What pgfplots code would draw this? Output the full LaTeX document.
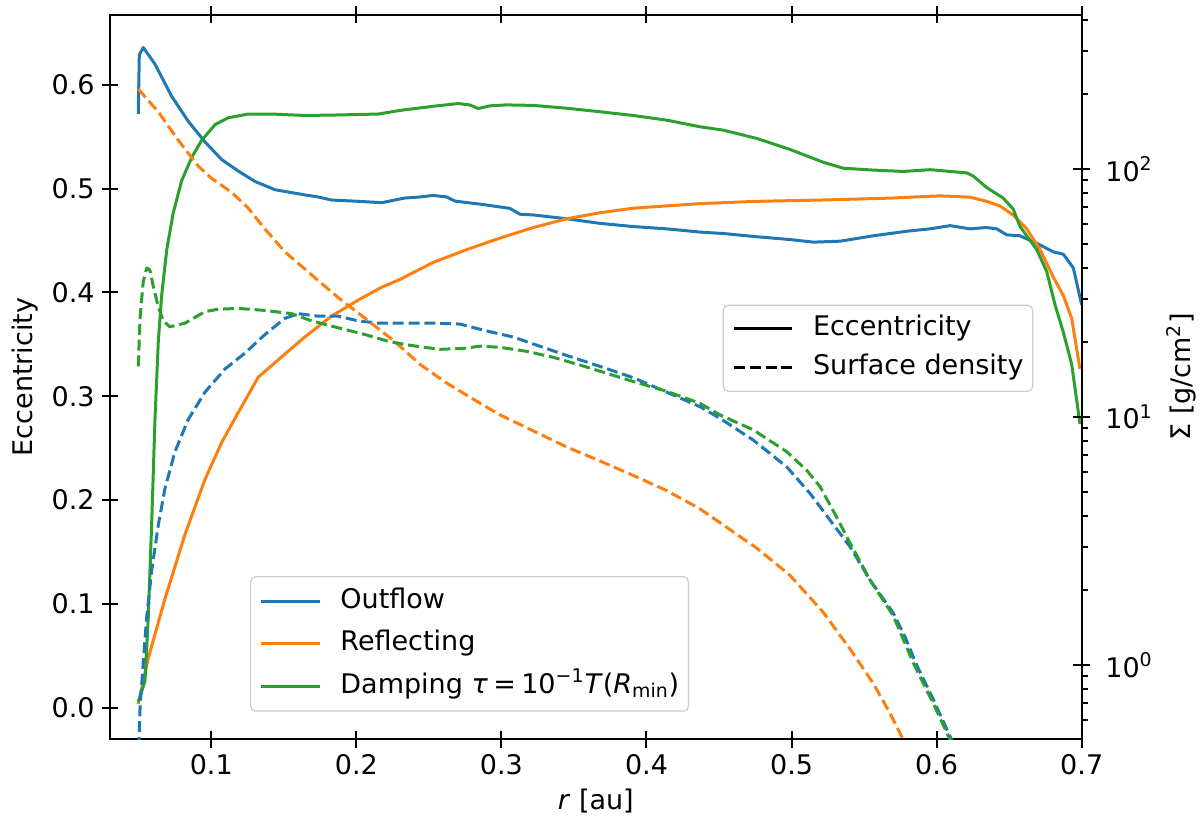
\documentclass[border=0pt]{standalone}
\usepackage{fontspec}
\setmainfont{DejaVu Sans}
\usepackage{pgfplots}
\pgfplotsset{compat=1.18}
\definecolor{c0}{HTML}{1F77B4}
\definecolor{c1}{HTML}{FF7F0E}
\definecolor{c2}{HTML}{2CA02C}
\newcommand\ff{\fontsize{13.5pt}{16pt}\selectfont}
\pgfplotsset{
  base/.style={
    scale only axis, width=485.85pt, height=362.3pt,
    at={(55pt,44.85pt)}, anchor=south west,
    xmin=0.0302, xmax=0.7,
    axis line style={line width=1pt},
    tick style={line width=1pt, black},
    tick align=center,
    major tick length=8.3pt,
    tick label style={font=\ff},
    label style={font=\ff},
    /pgf/number format/assume math mode=true,
    legend cell align=left,
    legend image code/.code={\draw[##1] (0pt,0pt) -- (29.2pt,0pt);},
    legend style={font=\ff, draw=black!20, line width=0.6pt, rounded corners=2.5pt,
      fill=white, fill opacity=0.8, text opacity=1, inner xsep=4.6pt,
      column sep=9.6pt, nodes={inner sep=0pt, text height=9.8pt, text depth=2.8pt}},
  },
  sl/.style={line width=1.5pt, line join=round},
  dl/.style={line width=1.5pt, line join=round, dash pattern=on 5.5pt off 2.4pt},
}
\begin{document}
\begin{tikzpicture}
\begin{axis}[base,
  ymin=-0.0304, ymax=0.6676,
  xtick={0.1,0.2,0.3,0.4,0.5,0.6,0.7},
  ytick={0,0.1,0.2,0.3,0.4,0.5,0.6},
  xtick pos=both, xticklabel pos=lower, ytick pos=left,
  xticklabel style={/pgf/number format/.cd, fixed, fixed zerofill, precision=1},
  yticklabel style={/pgf/number format/.cd, fixed, fixed zerofill, precision=1},
  xlabel={\textit{r} [au]}, ylabel={Eccentricity},
  legend style={at={(0.1441,0.0381)}, anchor=south west, row sep=8.5pt, inner ysep=6.2pt},
]
\addplot[sl, c0] coordinates {
(0.0497,0.572) (0.0504,0.629) (0.0531,0.636) (0.0612,0.620) (0.0727,0.589)
(0.0841,0.565) (0.0957,0.545) (0.1072,0.528) (0.1186,0.517) (0.1301,0.507)
(0.1439,0.499) (0.1646,0.494) (0.1738,0.492) (0.1830,0.489) (0.1991,0.488)
(0.2175,0.4865) (0.2335,0.491) (0.2439,0.492) (0.2530,0.4935) (0.2623,0.492)
(0.2680,0.488) (0.2875,0.4847) (0.3059,0.481) (0.3128,0.4754) (0.3220,0.4747)
(0.3450,0.471) (0.3679,0.4666) (0.3909,0.4635) (0.4139,0.4613) (0.4369,0.4582)
(0.4529,0.4568) (0.4760,0.4537) (0.4989,0.451) (0.5150,0.4485) (0.5334,0.4494)
(0.5563,0.4546) (0.5794,0.459) (0.5954,0.4613) (0.6092,0.4644) (0.6230,0.4613)
(0.6345,0.4626) (0.6414,0.4613) (0.6483,0.4555) (0.6575,0.4546) (0.6713,0.4458)
(0.6804,0.4391) (0.6873,0.4369) (0.6942,0.4237) (0.7000,0.388)
};
\addlegendentry{Outflow}
\addplot[sl, c1] coordinates {
(0.0497,0.0036) (0.0566,0.0477) (0.0681,0.105) (0.0819,0.167) (0.0957,0.220)
(0.1072,0.2556) (0.1186,0.2843) (0.1324,0.3184) (0.1462,0.3352) (0.1646,0.3573)
(0.1830,0.3773) (0.2013,0.3927) (0.2175,0.4051) (0.2301,0.4126) (0.2530,0.429)
(0.2761,0.4413) (0.2990,0.4524) (0.3220,0.4626) (0.3450,0.471) (0.3679,0.4768)
(0.3909,0.4812) (0.4139,0.4834) (0.4369,0.4856) (0.4760,0.4878) (0.5219,0.4891)
(0.5679,0.4909) (0.6024,0.4931) (0.6230,0.4918) (0.6345,0.4878) (0.6437,0.4833)
(0.6528,0.4746) (0.6621,0.4613) (0.6713,0.4413) (0.6804,0.4148) (0.6873,0.3971)
(0.6931,0.375) (0.6988,0.3263)
};
\addlegendentry{Reflecting}
\addplot[sl, c2] coordinates {
(0.0497,0.0057) (0.0543,0.0256) (0.0566,0.0875) (0.0589,0.176) (0.0612,0.2777)
(0.0635,0.3529) (0.0658,0.397) (0.0693,0.441) (0.0738,0.4768) (0.0796,0.5077)
(0.0865,0.530) (0.0934,0.5466) (0.1026,0.5617) (0.1117,0.5683) (0.1255,0.5719)
(0.1416,0.5719) (0.1646,0.5705) (0.1875,0.571) (0.2151,0.5719) (0.2301,0.5754)
(0.2530,0.5794) (0.2703,0.582) (0.2783,0.5806) (0.2840,0.5772) (0.2921,0.5798)
(0.3036,0.5807) (0.3220,0.5802) (0.3450,0.5775) (0.3679,0.5741) (0.3909,0.5705)
(0.4139,0.566) (0.4369,0.5596) (0.4529,0.5564) (0.4760,0.5484) (0.4989,0.5378)
(0.5219,0.5254) (0.5357,0.5197) (0.5563,0.5179) (0.5770,0.5166) (0.5954,0.5183)
(0.6207,0.5152) (0.6253,0.5121) (0.6345,0.5011) (0.6459,0.4909) (0.6528,0.4803)
(0.6575,0.4635) (0.6690,0.4413) (0.6759,0.4201) (0.6816,0.3882) (0.6873,0.3618)
(0.6931,0.3308) (0.6988,0.2733)
};
\addlegendentry{Damping \textit{τ}\kern0.2em=\kern0.2em10\textsuperscript{−1}\textit{T}(\textit{R}\textsubscript{min})}
\end{axis}
\begin{axis}[base,
  ymode=log, ymin=0.5017, ymax=418.9,
  axis x line=none, axis y line*=right,
  ytick={1,10,100},
  yticklabels={10\textsuperscript{0},10\textsuperscript{1},10\textsuperscript{2}},
  minor ytick={0.6,0.7,0.8,0.9,2,3,4,5,6,7,8,9,20,30,40,50,60,70,80,90,200,300,400},
  yticklabel pos=right, ylabel near ticks,
  ylabel={Σ [g/cm\textsuperscript{2}]},
  ylabel style={font=\ff},
  tick align=outside, major tick length=8.3pt, major tick style={xshift=-4.15pt},
  minor tick length=3.3pt,
  legend style={at={(0.9502,0.5998)}, anchor=north east, row sep=6.9pt, inner ysep=5.45pt},
]
\addlegendimage{sl, black}
\addlegendentry{Eccentricity}
\addlegendimage{dl, black}
\addlegendentry{Surface density}
\addplot[dl, c0, forget plot] coordinates {
(0.0497,0.40) (0.0509,0.667) (0.0531,1.02) (0.0555,1.563) (0.0589,2.393)
(0.0635,3.67) (0.0681,5.16) (0.0750,7.25) (0.0841,9.77) (0.0957,12.6)
(0.1094,15.6) (0.1232,18.1) (0.1370,21.5) (0.1508,25.0) (0.1600,26.1)
(0.1738,25.5) (0.1875,25.5) (0.2013,24.4) (0.2151,23.9) (0.2335,23.9)
(0.2530,23.9) (0.2714,23.7) (0.2875,22.4) (0.3082,21.0) (0.3220,19.7)
(0.3450,17.7) (0.3679,16.0) (0.3909,14.4) (0.4139,12.6) (0.4369,11.0)
(0.4506,9.88) (0.4736,8.07) (0.4966,6.3) (0.5127,4.92) (0.5265,3.84)
(0.5403,3.0) (0.5541,2.2) (0.5701,1.62) (0.5782,1.30) (0.5862,1.0)
(0.5977,0.726) (0.6092,0.516) (0.6130,0.46)
};
\addplot[dl, c1, forget plot] coordinates {
(0.0497,210) (0.0635,170) (0.0773,130.5) (0.0910,102.8) (0.1003,91.6)
(0.1141,80.5) (0.1255,69.5) (0.1370,57.3) (0.1508,46.3) (0.1692,37.4)
(0.1875,30.3) (0.2060,25.0) (0.2244,20.6) (0.2335,18.5) (0.2439,16.3)
(0.2623,13.7) (0.2806,11.8) (0.2990,10.2) (0.3220,8.79) (0.3450,7.57)
(0.3679,6.65) (0.3909,5.81) (0.4139,5.05) (0.4369,4.26) (0.4529,3.67)
(0.4760,2.96) (0.4989,2.30) (0.5219,1.63) (0.5403,1.16) (0.5563,0.843)
(0.5679,0.638) (0.5770,0.499) (0.5820,0.45)
};
\addplot[dl, c2, forget plot] coordinates {
(0.0497,16.0) (0.0509,25.0) (0.0531,35.1) (0.0555,39.9) (0.0577,39.1)
(0.0600,33.7) (0.0635,27.8) (0.0669,24.4) (0.0715,23.1) (0.0819,23.9)
(0.0957,26.6) (0.1048,27.2) (0.1186,27.4) (0.1370,26.9) (0.1554,26.1)
(0.1692,24.4) (0.1875,22.9) (0.2060,21.5) (0.2220,20.2) (0.2335,19.6)
(0.2439,19.2) (0.2576,18.75) (0.2737,18.9) (0.2852,19.3) (0.2990,19.1)
(0.3174,18.4) (0.3357,17.4) (0.3542,16.2) (0.3726,15.0) (0.3909,13.9)
(0.4139,12.7) (0.4369,11.35) (0.4506,10.2) (0.4736,8.87) (0.4966,7.25)
(0.5104,6.1) (0.5196,5.24) (0.5311,3.95) (0.5380,3.29) (0.5541,2.2)
(0.5701,1.58) (0.5839,1.02) (0.5977,0.70) (0.6092,0.50) (0.6130,0.46)
};
\end{axis}
\pgfresetboundingbox
\useasboundingbox (0,0) rectangle (600pt,414.5pt);
\end{tikzpicture}
\end{document}
